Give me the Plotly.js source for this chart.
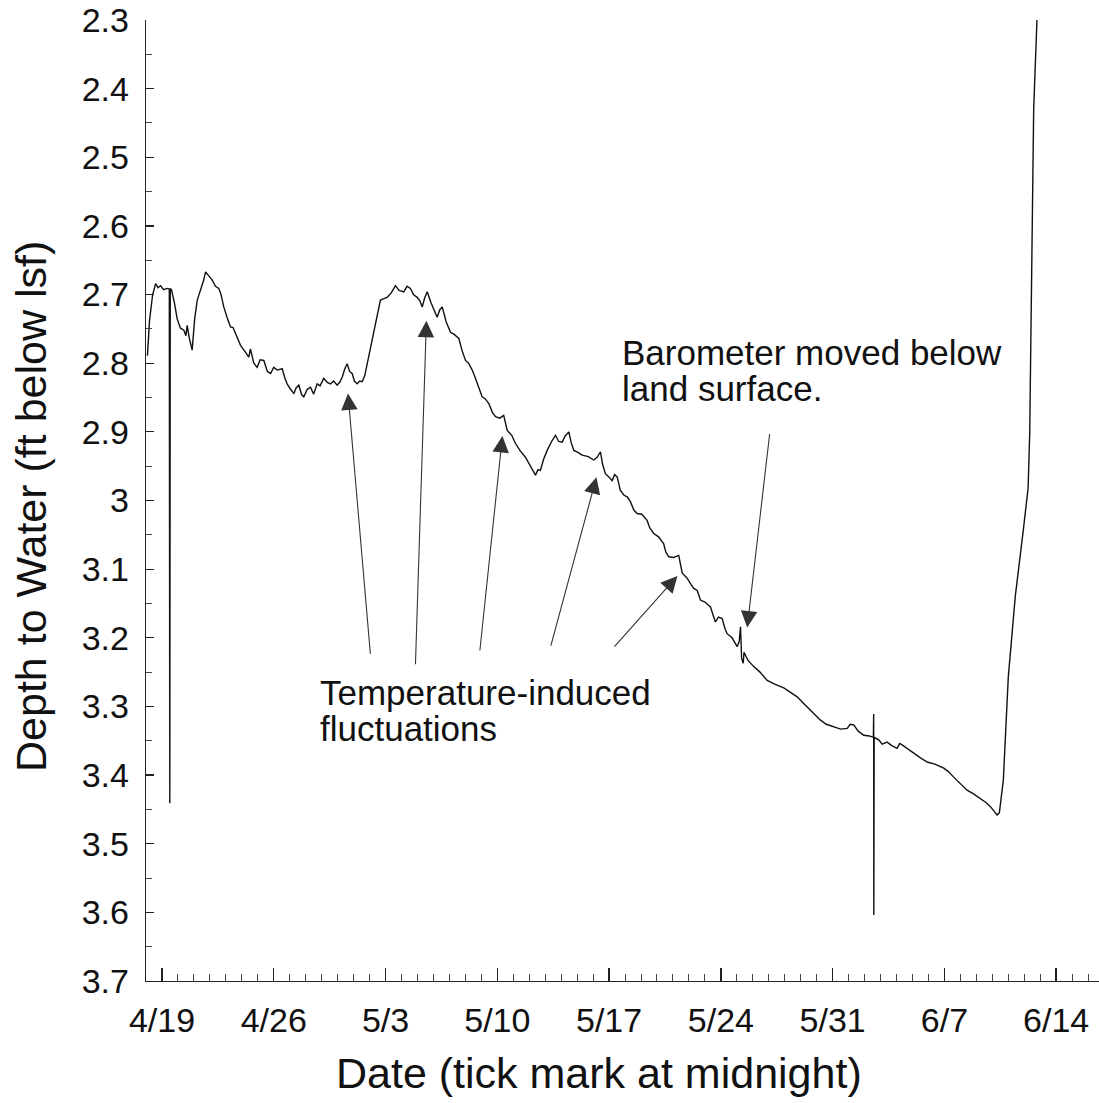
<!DOCTYPE html>
<html><head><meta charset="utf-8">
<script src="https://cdn.plot.ly/plotly-3.0.1.min.js"></script>
<style>html,body{margin:0;padding:0;background:#fff}#chart{width:1099px;height:1103px}</style>
</head><body><div id="chart"></div>
<script>
// Record start (midnight) and elapsed time in days for each reading
const recordStart = Date.UTC(2007, 3, 18, 0, 0, 0);
const elapsedDays = [
  0.09, 0.22, 0.41, 0.60, 0.75, 0.91, 1.10, 1.33, 1.46, 1.49, 1.52, 1.60, 1.78, 1.95, 2.05,
  2.16, 2.37, 2.50, 2.58, 2.70, 2.89, 3.05, 3.21, 3.41, 3.60, 3.73, 3.90, 4.15, 4.35, 4.56,
  4.70, 4.87, 5.10, 5.29, 5.45, 5.60, 5.92, 6.20, 6.44, 6.54, 6.75, 6.96, 7.15, 7.38, 7.60,
  7.80, 8.00, 8.22, 8.53, 8.70, 8.84, 9.05, 9.26, 9.40, 9.57, 9.75, 9.88, 10.10, 10.30, 10.50,
  10.72, 10.90, 11.13, 11.35, 11.55, 11.75, 11.97, 12.15, 12.29, 12.45, 12.60, 12.75, 12.91, 13.05, 13.23,
  13.38, 13.54, 13.70, 13.85, 14.16, 14.48, 14.68, 14.90, 15.10, 15.35, 15.62, 15.85, 16.14, 16.35, 16.56,
  16.75, 16.98, 17.15, 17.30, 17.45, 17.61, 17.85, 18.05, 18.23, 18.40, 18.55, 18.80, 19.07, 19.30, 19.59,
  19.80, 20.01, 20.20, 20.43, 20.63, 20.85, 21.05, 21.25, 21.47, 21.70, 21.89, 22.15, 22.40, 22.62, 22.90,
  23.14, 23.45, 23.76, 24.10, 24.39, 24.55, 24.70, 24.90, 25.12, 25.40, 25.64, 25.85, 26.06, 26.25, 26.48,
  26.62, 26.79, 27.05, 27.31, 27.70, 28.04, 28.25, 28.46, 28.60, 28.77, 29.00, 29.19, 29.35, 29.51, 29.70,
  29.92, 30.15, 30.34, 30.55, 30.76, 31.05, 31.38, 31.55, 31.80, 32.10, 32.42, 32.55, 32.74, 33.05, 33.36,
  33.58, 33.85, 34.10, 34.30, 34.52, 34.72, 35.00, 35.35, 35.50, 35.66, 35.85, 36.08, 36.25, 36.39, 36.70,
  37.02, 37.15, 37.23, 37.30, 37.40, 37.45, 37.70, 38.06, 38.45, 38.90, 39.40, 39.94, 40.35, 40.78, 41.20,
  41.61, 42.24, 42.60, 43.07, 43.50, 43.91, 44.10, 44.32, 44.60, 44.95, 45.30, 45.55, 45.57, 45.58, 45.60,
  45.90, 46.10, 46.41, 46.70, 47.04, 47.20, 47.35, 47.70, 48.08, 48.50, 48.92, 49.40, 49.96, 50.25, 50.58,
  51.00, 51.42, 51.80, 52.25, 52.60, 52.88, 53.10, 53.30, 53.44, 53.69, 54.00, 54.44, 54.93, 55.24, 55.34,
  55.45, 55.59, 55.84, 55.88
];
const depthFt = [
  2.789, 2.738, 2.701, 2.684, 2.690, 2.687, 2.693, 2.691, 2.692, 3.441, 2.691, 2.693, 2.712, 2.735, 2.742,
  2.749, 2.752, 2.760, 2.745, 2.762, 2.781, 2.735, 2.708, 2.694, 2.680, 2.667, 2.672, 2.679, 2.688, 2.691,
  2.700, 2.718, 2.735, 2.747, 2.748, 2.757, 2.774, 2.783, 2.791, 2.779, 2.800, 2.806, 2.795, 2.796, 2.812,
  2.815, 2.806, 2.810, 2.808, 2.822, 2.830, 2.838, 2.844, 2.836, 2.832, 2.846, 2.849, 2.838, 2.835, 2.845,
  2.830, 2.833, 2.822, 2.828, 2.830, 2.826, 2.832, 2.827, 2.820, 2.808, 2.801, 2.812, 2.815, 2.826, 2.830,
  2.826, 2.827, 2.818, 2.801, 2.767, 2.733, 2.708, 2.706, 2.704, 2.698, 2.687, 2.694, 2.696, 2.688, 2.691,
  2.700, 2.704, 2.709, 2.718, 2.705, 2.696, 2.712, 2.722, 2.733, 2.722, 2.718, 2.740, 2.755, 2.758, 2.764,
  2.782, 2.796, 2.800, 2.810, 2.822, 2.838, 2.849, 2.852, 2.859, 2.872, 2.878, 2.880, 2.876, 2.898, 2.905,
  2.917, 2.928, 2.937, 2.952, 2.963, 2.955, 2.956, 2.940, 2.927, 2.914, 2.905, 2.914, 2.915, 2.906, 2.900,
  2.915, 2.927, 2.930, 2.934, 2.936, 2.941, 2.937, 2.929, 2.948, 2.961, 2.966, 2.971, 2.962, 2.966, 2.985,
  2.992, 2.995, 3.002, 3.014, 3.019, 3.020, 3.029, 3.040, 3.048, 3.053, 3.063, 3.075, 3.082, 3.083, 3.080,
  3.106, 3.112, 3.121, 3.128, 3.131, 3.145, 3.148, 3.155, 3.166, 3.177, 3.170, 3.172, 3.186, 3.194, 3.200,
  3.213, 3.205, 3.184, 3.230, 3.237, 3.221, 3.233, 3.242, 3.250, 3.262, 3.268, 3.273, 3.279, 3.286, 3.296,
  3.305, 3.320, 3.326, 3.330, 3.333, 3.332, 3.326, 3.327, 3.336, 3.342, 3.343, 3.345, 3.311, 3.604, 3.345,
  3.349, 3.355, 3.352, 3.357, 3.361, 3.354, 3.356, 3.362, 3.368, 3.375, 3.381, 3.384, 3.390, 3.395, 3.403,
  3.412, 3.422, 3.427, 3.434, 3.440, 3.446, 3.452, 3.458, 3.455, 3.407, 3.257, 3.139, 3.045, 2.982, 2.903,
  2.666, 2.429, 2.272, 2.250
];
const weeklyTickStart = '2007-04-19';
const xTitle = 'Date (tick mark at midnight)';
const yTitle = 'Depth to Water (ft below lsf)';
const noteTemp = ['Temperature-induced', 'fluctuations'];
const noteBaro = ['Barometer moved below', 'land surface.'];
// arrow targets (elapsed days, depth)
const tempArrowDays = [12.65, 17.56, 22.32, 28.21, 33.28];
const tempArrowDepth = [2.844, 2.738, 2.906, 2.966, 3.110];
const baroArrowDay = 37.65, baroArrowDepth = 3.185;

function toDate(d) {
  return new Date(recordStart + d * 86400000).toISOString().slice(0, 19).replace('T', ' ');
}
const times = elapsedDays.map(toDate);

const L = 146, T = 20, W = 953, H = 961;
const px = v => (v - L) / W;
const py = v => (T + H - v) / H;
const FONT = 'Liberation Sans, Arial, Helvetica, sans-serif';

const anns = [];
const tails = [[22.5, 262], [-11, 345], [-22.7, 216], [-46, 170], [-64.3, 72]];
tempArrowDays.forEach((d, i) => {
  anns.push({x: toDate(d), y: tempArrowDepth[i], xref: 'x', yref: 'y', text: '', showarrow: true,
    ax: tails[i][0], ay: tails[i][1], arrowhead: 2, arrowsize: 3.0, arrowwidth: 1.1, arrowcolor: '#333', standoff: 0});
});
anns.push({x: toDate(baroArrowDay), y: baroArrowDepth, xref: 'x', yref: 'y', text: '', showarrow: true,
  ax: 22.6, ay: -195, arrowhead: 2, arrowsize: 3.0, arrowwidth: 1.1, arrowcolor: '#333', standoff: 0});

const txt = (t, x, y, size, extra) => Object.assign({text: t, x: px(x), y: py(y), xref: 'paper', yref: 'paper',
  showarrow: false, xanchor: 'left', yanchor: 'middle', borderpad: 0, font: {family: FONT, size: size, color: '#111'}}, extra || {});
anns.push(txt(noteTemp[0], 319, 692, 35));
anns.push(txt(noteTemp[1], 319, 728, 35));
anns.push(txt(noteBaro[0], 621, 352, 35));
anns.push(txt(noteBaro[1], 621, 388, 35));
anns.push(txt(xTitle, 599, 1073, 43, {xanchor: 'center'}));
anns.push(txt(yTitle, 31, 507, 43, {xanchor: 'center', textangle: -90}));

const trace = {x: times, y: depthFt, type: 'scatter', mode: 'lines',
  line: {color: '#111', width: 1.4}, hoverinfo: 'x+y'};

const layout = {
  width: 1099, height: 1103,
  margin: {l: L, r: 1099 - L - W, t: T, b: 1103 - T - H, pad: 0},
  paper_bgcolor: '#fff', plot_bgcolor: '#fff', showlegend: false,
  font: {family: FONT, color: '#111'},
  xaxis: {type: 'date', range: [toDate(0), toDate(59.68)], tick0: weeklyTickStart, dtick: 7 * 86400000,
    tickformat: '%-m/%-d', ticks: 'inside', ticklen: 13, tickwidth: 1.4, tickcolor: '#222',
    showline: true, linecolor: '#222', linewidth: 1.3, showgrid: false, zeroline: false,
    tickfont: {family: FONT, size: 34, color: '#111'}, ticklabelstandoff: 9,
    minor: {dtick: 86400000, ticks: 'inside', ticklen: 7, tickwidth: 1, tickcolor: '#444', showgrid: false}},
  yaxis: {range: [3.7, 2.3], tick0: 2.3, dtick: 0.1, ticks: 'inside', ticklen: 8, tickwidth: 1.2, tickcolor: '#222',
    showline: true, linecolor: '#222', linewidth: 1.3, showgrid: false, zeroline: false,
    tickfont: {family: FONT, size: 34, color: '#111'}, ticklabelstandoff: 9,
    minor: {dtick: 0.05, ticks: 'inside', ticklen: 6, tickwidth: 1, tickcolor: '#444', showgrid: false}},
  annotations: anns
};
Plotly.newPlot('chart', [trace], layout, {displayModeBar: false, staticPlot: true});
</script></body></html>
